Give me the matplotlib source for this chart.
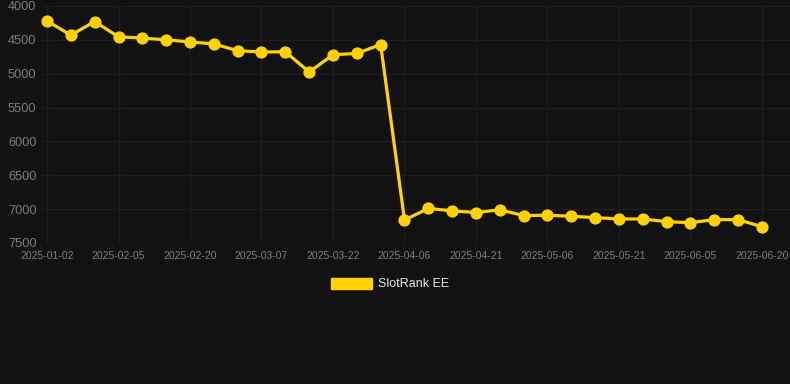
import matplotlib
matplotlib.use("Agg")
import matplotlib.pyplot as plt
from matplotlib.patches import Patch

dates = ["2025-01-02", "2025-01-13", "2025-01-25", "2025-02-05", "2025-02-10",
         "2025-02-15", "2025-02-20", "2025-02-25", "2025-03-02", "2025-03-07",
         "2025-03-12", "2025-03-17", "2025-03-22", "2025-03-27", "2025-04-01",
         "2025-04-06", "2025-04-11", "2025-04-16", "2025-04-21", "2025-04-26",
         "2025-05-01", "2025-05-06", "2025-05-11", "2025-05-16", "2025-05-21",
         "2025-05-26", "2025-05-31", "2025-06-05", "2025-06-10", "2025-06-15",
         "2025-06-20"]
rank = [4220, 4430, 4230, 4455, 4473, 4500, 4530, 4560, 4660, 4680,
        4675, 4975, 4720, 4700, 4570, 7160, 6990, 7025, 7050, 7010,
        7095, 7090, 7105, 7125, 7145, 7145, 7185, 7200, 7155, 7155,
        7260]
series_name = "SlotRank EE"
y_ticks = [4000, 4500, 5000, 5500, 6000, 6500, 7000, 7500]

bg = "#121212"
gold = "#FFD200"
grid = "#1f1f1f"
tick_col = "#7e7e7e"

plt.rcParams['font.family'] = ['Liberation Sans', 'DejaVu Sans']

fig = plt.figure(figsize=(7.9, 3.84), dpi=100, facecolor=bg)
ax = fig.add_axes([42/790, 1 - 243/384, 1 - 42/790, 237/384])
ax.set_facecolor(bg)

x = list(range(len(dates)))
ax.plot(x, rank, color=gold, lw=2.3, marker="o", markersize=7.8,
        markerfacecolor=gold, markeredgecolor=gold, zorder=3, clip_on=False)

ax.set_ylim(7500, 4000)
ax.set_yticks(y_ticks)
ax.set_yticklabels([str(v) for v in y_ticks])
ax.set_xlim(-5/23.83, 30 + 28/23.83)
xt = x[::3]
ax.set_xticks(xt)
ax.set_xticklabels([dates[i] for i in xt])

ax.grid(True, color=grid, lw=0.9)
ax.set_axisbelow(True)
for s in ax.spines.values():
    s.set_visible(False)
ax.tick_params(axis="both", length=0, colors=tick_col)
ax.tick_params(axis="y", labelsize=9.2, pad=4)
ax.tick_params(axis="x", labelsize=7.5, pad=6)

handle = Patch(facecolor=gold, edgecolor=gold)
leg = fig.legend([handle], [series_name], loc="center",
                 bbox_to_anchor=(390/790, 1 - 284/384), frameon=False,
                 fontsize=9, handlelength=3.3, handleheight=1.0,
                 handletextpad=0.5, labelcolor="#e6e6e6")

fig.savefig("out.png", dpi=100, facecolor=bg)
